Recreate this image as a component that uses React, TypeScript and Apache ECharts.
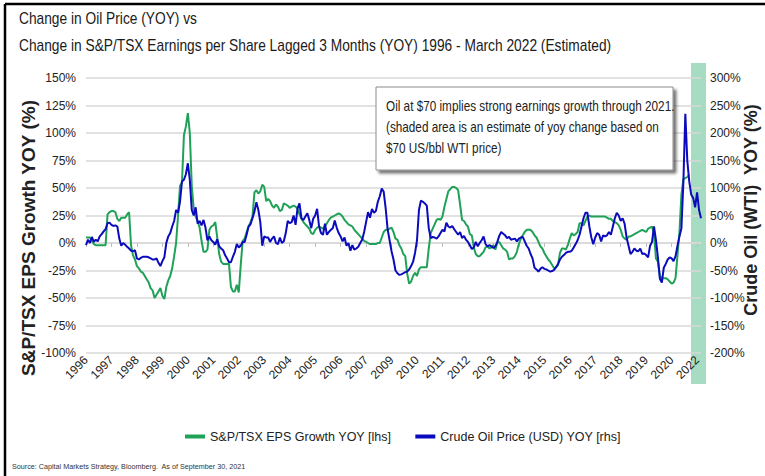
import React, { useEffect, useRef } from "react";
import * as echarts from "echarts";

// Monthly categories, Jan 1996 .. Mar 2022
const START_YEAR = 1996;
const MONTH_COUNT = 315;
const CATEGORIES: string[] = [];
for (let i = 0; i < MONTH_COUNT; i++) {
  const y = START_YEAR + Math.floor(i / 12);
  const m = (i % 12) + 1;
  CATEGORIES.push(`${y}-${m < 10 ? "0" + m : m}`);
}

// S&P/TSX EPS growth YoY (%), lagged 3 months — left axis (ends Sep 2021)
const EPS_GROWTH = [
  5, 5, 5, 2, -1, -2, -2, -2, -2, -2,
  -2, 26, 28, 29, 29, 28, 22, 20, 23, 23,
  23, 26, 28, -2, -11, -15, -21, -23, -26, -27,
  -30, -33, -36, -41, -43, -50, -47, -44, -41, -48,
  -51, -40, -34, -30, -23, -12, 0, 25, 52, 55,
  98, 106, 118, 100, 52, 31, 24, 20, 14, 2,
  -8, -8, -6, 12, 15, 16, 19, 5, -10, -17,
  -19, -19, -19, -19, -40, -44, -44, -38, -45, -20,
  2, 4, 10, 15, 19, 24, 46, 48, 45, 47,
  53, 51, 38, 40, 38, 34, 32, 35, 33, 29,
  30, 36, 35, 34, 32, 33, 34, 33, 31, 26,
  22, 19, 17, 15, 13, 9, 8, 12, 14, 15,
  14, 13, 15, 18, 21, 23, 24, 25, 26, 27,
  26, 24, 21, 19, 17, 16, 15, 12, 10, 8,
  6, 4, 2, 1, 0, -1, -1, -1, -1, 0,
  0, 5, 10, 12, 12, 13, 14, 10, 4, 3,
  -2, -5, -10, -12, -28, -37, -35, -30, -27, -30,
  -24, -22, -22, -22, -22, -5, 9, 13, 17, 21,
  22, 21, 24, 33, 40, 47, 49, 51, 51, 50,
  48, 35, 21, 20, 17, 15, 8, 7, -4, -10,
  -12, -12, -10, -8, -4, -3, -5, -4, -2, -6,
  0, 1, -2, -5, -6, -8, -15, -14, -14, -12,
  -8, -1, 4, 7, 10, 12, 12, 12, 10, 7,
  5, 1, -3, -5, -9, -12, -15, -17, -20, -23,
  -22, -20, -9, -5, -5, -6, -2, 4, 9, 7,
  8, 10, 18, 18, 16, 20, 24, 25, 24, 24,
  24, 24, 24, 24, 24, 24, 23, 22, 22, 20,
  19, 18, 16, 12, 6, 4, 3, 6, 6, 7,
  8, 9, 10, 11, 12, 11, 10, 13, 14, 15,
  8, -14, -17, -30, -32, -32, -32, -33, -35, -37,
  -36, -32, -11, 10, 44, 58, 59, 60, 62,
];

// Crude oil (WTI, USD) YoY (%) — right axis
const OIL_YOY = [
  -4, 6, 0, 11, 2, 6, 3, 12, 16, 21,
  25, 36, 37, 33, 31, 32, 30, 8, -5, 0,
  -3, -7, -10, -14, -15, -13, -28, -30, -27, -25,
  -25, -25, -26, -28, -30, -30, -28, -36, -42, -33,
  -26, 0, 12, 18, 30, 40, 60, 55, 75, 112,
  115, 125, 145, 115, 60, 50, 65, 35, 40, 32,
  42, 28, 5, 12, 5, 2, -3, 7, -6, -10,
  -13, -22, -28, -35, -35, -25, -16, -2, -8, -5,
  2, 2, 15, 30, 34, 45, 57, 74, 60, 38,
  -5, 12, 10, 10, 2, 8, 12, 0, -2, 10,
  0, 3, 18, 40, 36, 38, 50, 33, 63, 72,
  45, 42, 48, 54, 42, 27, 44, 50, 62, 30,
  18, 15, 35, 15, 20, 24, 27, 41, 28, 18,
  12, 3, 10, -5, 0, -14, -4, -12, -10, -7,
  0, 6, 20, 38, 56, 46, 62, 55, 58, 75,
  85, 99, 93, 63, 25, 5, -15, -30, -50, -55,
  -58, -57, -55, -53, -52, -48, -42, -34, -18, 5,
  60, 77, 75, 72, 68, 27, 9, 11, 10, 8,
  12, 18, 24, 21, 37, 30, 28, 31, 25, 20,
  15, 20, 9, 13, 6, 2, -4, -11, -8, 2,
  -6, 0, 5, 12, -2, -6, -4, -6, -9, -6,
  2, 13, 20, 17, 14, 9, 11, 6, 7, 8,
  3, 8, 10, 11, 3, -5, -10, -20, -28, -45,
  -48, -52, -47, -44, -47, -48, -50, -52, -51, -49,
  -44, -38, -30, -25, -22, -18, -16, -16, -14, -8,
  -2, 5, 15, 30, 45, 55, 55, 30, 10, -2,
  10, 18, 15, 3, 14, 12, 14, 20, 15, 30,
  45, 55, 50, 40, 45, 35, 10, -5, -20, -16,
  -10, -14, -15, -10, -20, -19, -22, -26, -5, 2,
  30, 5, -26, -65, -72, -45, -38, -30, -26, -28,
  -33, -24, -5, 12, 27, 110, 235, 150, 112, 88,
  82, 65, 92, 60, 45,
];

const LEFT_AXIS = { min: -100, max: 150, interval: 25 };
const RIGHT_AXIS = { min: -200, max: 300, interval: 50 };

const SERIES_NAMES = ["S&P/TSX EPS Growth YOY [lhs]", "Crude Oil Price (USD) YOY [rhs]"];
const TITLE_LINES = [
  "Change in Oil Price (YOY) vs",
  "Change in S&P/TSX Earnings per Share Lagged 3 Months (YOY) 1996 - March 2022 (Estimated)",
];
const NOTE_LINES = [
  "Oil at $70 implies strong earnings growth through 2021.",
  "(shaded area is an estimate of yoy change based on",
  "$70 US/bbl WTI price)",
];
const LEFT_NAME = "S&P/TSX EPS Growth YOY (%)";
const RIGHT_NAME = "Crude Oil (WTI)  YOY (%)";
const SOURCE = "Source: Capital Markets Strategy, Bloomberg.  As of September 30, 2021";

const SANS = "'Liberation Sans', Arial, sans-serif";
const GREEN = "#1fa257";
const BLUE = "#0b0bbd";
const GRID_COLOR = "#d9d9d9";
const NARROW_SCALE = 0.86;

export default function App() {
  const ref = useRef<HTMLDivElement>(null);
  useEffect(() => {
    if (!ref.current) return;
    const chart = echarts.init(ref.current, undefined, { renderer: "svg" });
    chart.setOption({
      animation: false,
      grid: { left: 86, right: 64, top: 78, bottom: 123, containLabel: false },
      legend: {
        left: 180,
        top: 425,
        icon: "rect",
        itemWidth: 20,
        itemHeight: 4,
        itemGap: 24,
        textStyle: { fontFamily: SANS, fontSize: 12.5, color: "#222" },
        data: SERIES_NAMES,
      },
      xAxis: [
        {
          type: "category",
          data: CATEGORIES,
          boundaryGap: false,
          position: "bottom",
          axisLine: { show: false, onZero: false },
          axisTick: { show: false },
          splitLine: { show: false },
          axisLabel: {
            interval: 12,
            rotate: 45,
            margin: 5,
            fontFamily: SANS,
            fontSize: 12,
            color: "#222",
            formatter: (v: string) => v.slice(0, 4),
          },
        },
        {
          type: "category",
          data: CATEGORIES,
          boundaryGap: false,
          position: "bottom",
          axisLine: { show: true, onZero: true, onZeroAxisIndex: 0, lineStyle: { color: GRID_COLOR, width: 1.5 } },
          axisTick: { show: true, interval: 12, length: 4, lineStyle: { color: "#bfbfbf" } },
          axisLabel: { show: false },
          splitLine: { show: false },
        },
      ],
      yAxis: [
        {
          type: "value",
          min: LEFT_AXIS.min,
          max: LEFT_AXIS.max,
          interval: LEFT_AXIS.interval,
          axisLine: { show: false },
          axisTick: { show: false },
          splitLine: { show: true, lineStyle: { color: GRID_COLOR, width: 1.5 } },
          axisLabel: { formatter: "{value}%", margin: 10, fontFamily: SANS, fontSize: 12, color: "#222" },
        },
        {
          type: "value",
          position: "right",
          min: RIGHT_AXIS.min,
          max: RIGHT_AXIS.max,
          interval: RIGHT_AXIS.interval,
          axisLine: { show: false },
          axisTick: { show: false },
          splitLine: { show: false },
          axisLabel: { formatter: "{value}%", margin: 9, fontFamily: SANS, fontSize: 12, color: "#222" },
        },
      ],
      series: [
        {
          name: SERIES_NAMES[0],
          type: "line",
          data: EPS_GROWTH,
          xAxisIndex: 0,
          yAxisIndex: 0,
          showSymbol: false,
          symbol: "none",
          color: GREEN,
          lineStyle: { width: 2, color: GREEN },
          z: 3,
        },
        {
          name: SERIES_NAMES[1],
          type: "line",
          data: OIL_YOY,
          xAxisIndex: 0,
          yAxisIndex: 1,
          showSymbol: false,
          symbol: "none",
          color: BLUE,
          lineStyle: { width: 2, color: BLUE },
          z: 4,
        },
      ],
      graphic: [
        { type: "rect", z: -1, shape: { x: 691, y: 63, width: 15, height: 321 }, style: { fill: "#a6dcc2" } },
        { type: "line", z: 20, shape: { x1: 5, y1: 4, x2: 765, y2: 4 }, style: { stroke: "#000", lineWidth: 2.5 } },
        { type: "line", z: 20, shape: { x1: 5, y1: 4, x2: 5, y2: 476 }, style: { stroke: "#000", lineWidth: 2.5 } },
        {
          type: "text", z: 20, x: 19, y: 10, scaleX: NARROW_SCALE,
          style: { text: TITLE_LINES[0], fontFamily: SANS, fontSize: 16, fill: "#1a1a1a" },
        },
        {
          type: "text", z: 20, x: 19, y: 37, scaleX: NARROW_SCALE,
          style: { text: TITLE_LINES[1], fontFamily: SANS, fontSize: 16, fill: "#1a1a1a" },
        },
        {
          type: "rect", z: 10, shape: { x: 376, y: 87, width: 297, height: 83 },
          style: { fill: "#fff", stroke: "#8c8c8c", lineWidth: 1, shadowBlur: 3, shadowOffsetX: 3, shadowOffsetY: 3, shadowColor: "rgba(0,0,0,0.55)" },
        },
        {
          type: "text", z: 11, x: 386, y: 96, scaleX: 0.84,
          style: { text: NOTE_LINES.join("\n"), fontFamily: SANS, fontSize: 14, lineHeight: 21, fill: "#222" },
        },
        {
          type: "text", z: 20, x: 28, y: 238, rotation: Math.PI / 2,
          style: { text: LEFT_NAME, fontFamily: SANS, fontSize: 19, fontWeight: "bold", fill: "#222", align: "center", verticalAlign: "middle" },
        },
        {
          type: "text", z: 20, x: 751, y: 210, rotation: Math.PI / 2,
          style: { text: RIGHT_NAME, fontFamily: SANS, fontSize: 18, fontWeight: "bold", fill: "#222", align: "center", verticalAlign: "middle" },
        },
        {
          type: "text", z: 20, x: 12, y: 462, scaleX: 0.9,
          style: { text: SOURCE, fontFamily: SANS, fontSize: 8, fill: "#333" },
        },
      ],
    });
    return () => chart.dispose();
  }, []);
  return <div ref={ref} style={{ position: "fixed", left: 0, top: 0, width: 765, height: 476, background: "#fff" }} />;
}
